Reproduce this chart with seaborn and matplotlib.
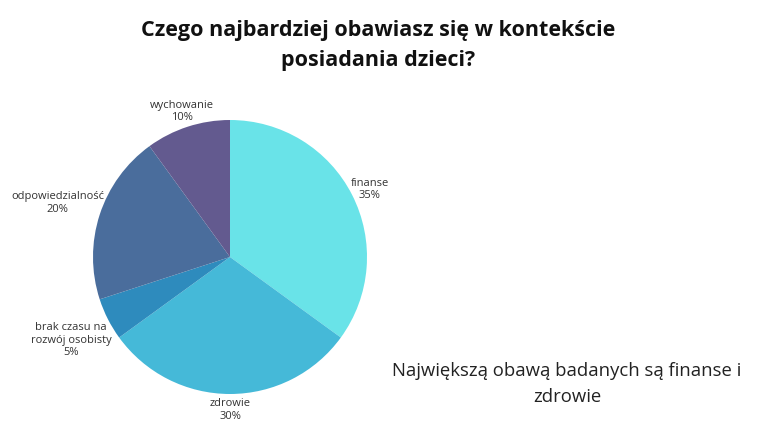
import matplotlib
matplotlib.use("Agg")
import matplotlib.pyplot as plt
import seaborn as sns
import numpy as np

categories = ["finanse", "zdrowie", "brak czasu na\nrozwój osobisty", "odpowiedzialność", "wychowanie"]
values = [35, 30, 5, 20, 10]
colors = ["#69e3e8", "#45b9d8", "#2e8bbd", "#4a6d9c", "#635a8f"]

title = "Czego najbardziej obawiasz się w kontekście\nposiadania dzieci?"
note = "Największą obawą badanych są finanse i\nzdrowie"

# label placement (in pie radius units)
label_pos = [(1.02, 0.50), (0.0, -1.11), (-1.16, -0.60), (-1.26, 0.40), (-0.35, 1.07)]

sns.set_theme(style="white")
plt.rcParams['font.family'] = ['Open Sans', 'DejaVu Sans']

fig = plt.figure(figsize=(7.68, 4.39), dpi=100)
fig.patch.set_facecolor("white")

W, H = 768, 439
cx, cy, r = 230, 258, 137
ax = fig.add_axes([(cx - r) / W, (H - cy - r) / H, 2 * r / W, 2 * r / H])
wedges, texts = ax.pie(values, colors=colors, startangle=90, counterclock=False,
                       labels=[f"{c}\n{v}%" for c, v in zip(categories, values)],
                       radius=1.0, wedgeprops=dict(linewidth=0),
                       textprops=dict(fontsize=8, color="#333333"))
for t, (x, y) in zip(texts, label_pos):
    t.set_position((x, y))
    t.set_horizontalalignment("center")
    t.set_verticalalignment("center")
    t.set_multialignment("center")
ax.set_xlim(-1, 1)
ax.set_ylim(-1, 1)
ax.set_aspect("equal")
ax.axis("off")

fig.text(378 / W, 1 - 45.5 / H, title, ha="center", va="center", fontsize=15.5,
         fontweight="bold", fontstretch="normal", color="#111111", linespacing=1.55,
         family=['Open Sans', 'DejaVu Sans'])
fig.text(567 / W, 1 - 384 / H, note, ha="center", va="center", fontsize=13.3,
         color="#222222", linespacing=1.6)

fig.savefig("out.png", dpi=100, facecolor="white")
